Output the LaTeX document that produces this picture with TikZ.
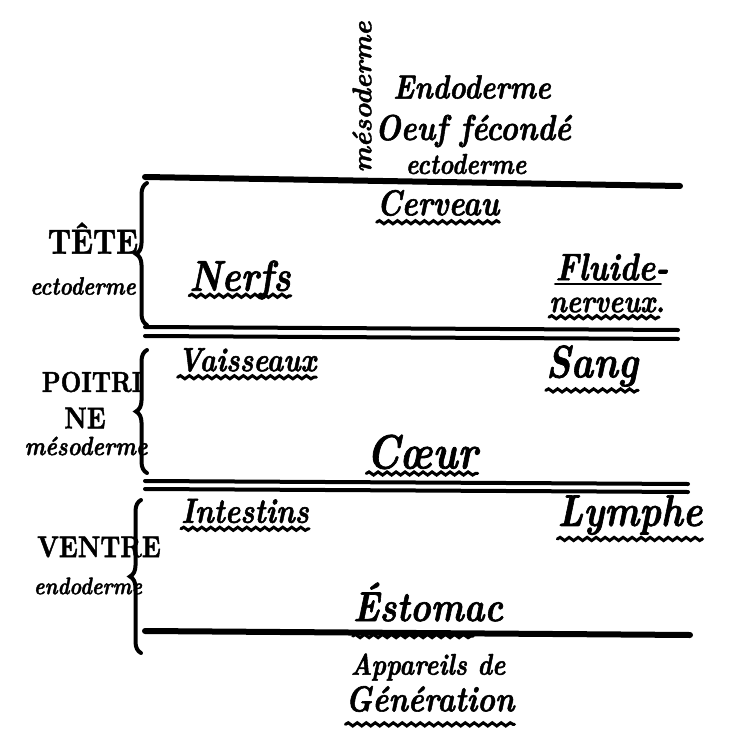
\documentclass[tikz,border=0pt]{standalone}
\usepackage{fontspec}
\setmainfont{lmroman10}[Extension=.otf, UprightFont=*-regular, BoldFont=*-bold,
  ItalicFont=*-italic, BoldItalicFont=*-bolditalic,
  BoldFeatures={FakeBold=1.6}, BoldItalicFeatures={FakeBold=1.6}]
\usetikzlibrary{decorations.pathmorphing,decorations.pathreplacing}
\newcommand{\hw}[1]{\fontsize{#1}{#1}\selectfont\bfseries\itshape}
\newcommand{\hc}[1]{\fontsize{#1}{#1}\selectfont\bfseries}
\begin{document}
\begin{tikzpicture}[x=1pt, y=-1pt, line cap=round,
    trait/.style={line width=6pt},
    trait2/.style={line width=4pt},
    accol/.style={line width=4pt, decorate, decoration={brace, amplitude=11pt}},
    ondule/.style={line width=3pt, decorate, decoration={snake, amplitude=1.6pt, segment length=9pt}},
    mot/.style={inner sep=0pt, yscale=1.2}]
        \useasboundingbox (0,0) rectangle (741,741);

        % les traits horizontaux
        \draw[trait] (145,177) -- (680,186);
        \draw[trait2] (145,327) -- (678,330);
        \draw[trait2] (145,336) -- (678,339);
        \draw[trait2] (145,481) -- (688,484);
        \draw[trait2] (145,489) -- (688,492);
        \draw[trait] (145,631) -- (690,635);

        % accolades
        \draw[accol] (147,325) -- (147,183);
        \draw[accol] (147,473) -- (147,350);
        \draw[accol] (141,653) -- (141,500);

        % en haut
        \node[inner sep=0pt, rotate=90, font=\hw{27}] (meso) at (362,97) {mésoderme};
        \node[mot, font=\hw{28}] (endo) at (472,87) {Endoderme};
        \node[mot, font=\hw{30}] (oeuf) at (473,131) {Oeuf fécondé};
        \node[mot, font=\hw{24}] (ecto) at (466,164) {ectoderme};

        % tete
        \node[mot, font=\hc{29}] (tete) at (93,238) {TÊTE};
        \node[mot, font=\hw{21}] (tecto) at (83,286) {ectoderme};
        \node[mot, font=\hw{30}] (cerveau) at (438,203) {Cerveau};
        \node[mot, font=\hw{36}] (nerfs) at (240,280) {Nerfs};
        \node[mot, font=\hw{32}] (fluide) at (612,267) {Fluide-};
        \node[mot, font=\hw{27}] (nerveux) at (607,305) {nerveux.};
        \draw[ondule] ([yshift=-6pt]cerveau.south west) -- ([yshift=-6pt]cerveau.south east);
        \draw[ondule] ([yshift=-5pt]nerfs.base west) -- ([yshift=-5pt]nerfs.base east);
        \draw[line width=2.6pt] ([yshift=-4pt]fluide.base west) -- ([yshift=-4pt,xshift=-8pt]fluide.base east);
        \draw[ondule] ([yshift=-5pt]nerveux.base west) -- ([yshift=-5pt,xshift=-6pt]nerveux.base east);

        % poitrine
        \node[mot, font=\hc{24}] (poitri) at (92,382) {POITRI};
        \node[mot, font=\hc{25}] (ne) at (85,418) {NE};
        \node[mot, font=\hw{22}] (pmeso) at (86,446) {mésoderme};
        \node[mot, font=\hw{28}] (vaiss) at (247,360) {Vaisseaux};
        \node[mot, font=\hw{38}] (sang) at (592,366) {Sang};
        \node[mot, font=\hw{40}] (coeur) at (422,452) {Cœur};
        \draw[ondule] ([yshift=-6pt]vaiss.base west) -- ([yshift=-6pt]vaiss.base east);
        \draw[ondule] ([yshift=-13pt]sang.base west) -- ([yshift=-13pt]sang.base east);
        \draw[ondule] ([yshift=-5pt]coeur.base west) -- ([yshift=-5pt]coeur.base east);

        % ventre
        \node[mot, font=\hc{25}] (ventre) at (99,547) {VENTRE};
        \node[mot, font=\hw{20}] (vendo) at (88,586) {endoderme};
        \node[mot, font=\hw{29}] (intest) at (245,511) {Intestins};
        \node[mot, font=\hw{37}] (lymphe) at (630,515) {Lymphe};
        \node[mot, font=\hw{35}] (estomac) at (428,602) {Éstomac};
        \node[mot, font=\hw{25}] (appar) at (428,667) {Appareils de};
        \node[mot, font=\hw{30}] (gener) at (430,699) {Génération};
        \draw[ondule] ([yshift=-6pt]intest.base west) -- ([yshift=-6pt]intest.base east);
        \draw[ondule] ([yshift=-13pt]lymphe.base west) -- ([yshift=-13pt]lymphe.base east);
        \draw[ondule] ([yshift=-15pt]estomac.base west) -- ([yshift=-15pt,xshift=-30pt]estomac.base east);
        \draw[ondule] ([yshift=-13pt]gener.base west) -- ([yshift=-13pt]gener.base east);
    \end{tikzpicture}
\end{document}
